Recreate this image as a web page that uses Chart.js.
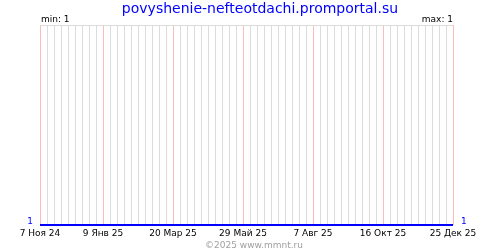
<!DOCTYPE html>
<html lang="ru">
<head>
<meta charset="UTF-8">
<title>povyshenie-nefteotdachi.promportal.su</title>
<script src="https://cdn.jsdelivr.net/npm/chart.js"></script>
<style>
  html, body { margin: 0; padding: 0; background: #fff; }
  #wrap { width: 500px; height: 250px; position: relative; }
</style>
</head>
<body>
<div id="wrap"><canvas id="grafico"></canvas></div>

<script>
// dados do grafico
const siteTitle = 'povyshenie-nefteotdachi.promportal.su';
const tickLabels = ['7 Ноя 24', '9 Янв 25', '20 Мар 25', '29 Май 25', '7 Авг 25', '16 Окт 25', '25 Дек 25'];
const tickDays = [0, 63, 133, 203, 273, 343, 413];   // dias desde 7 Ноя 24
const pointDays = [0, 63, 133, 203, 273, 343, 413];
const pointValues = [1, 1, 1, 1, 1, 1, 1];
const minText = 'min: 1';
const maxText = 'max: 1';
const footerText = '©2025 www.mmnt.ru';

const FONT = '"DejaVu Sans", Verdana, sans-serif';

// textos extras (titulo, min/max, rodape)
const textos = {
  id: 'textos',
  afterDraw(chart) {
    const ctx = chart.ctx;
    const area = chart.chartArea;
    ctx.save();
    ctx.textBaseline = 'alphabetic';

    ctx.font = '14px ' + FONT;
    ctx.fillStyle = '#0000ff';
    ctx.textAlign = 'center';
    ctx.fillText(siteTitle, 260, 13);

    ctx.font = '9px ' + FONT;
    ctx.fillStyle = '#000';
    ctx.textAlign = 'left';
    ctx.fillText(minText, area.left + 1, 22);
    ctx.textAlign = 'right';
    ctx.fillText(maxText, area.right, 22);

    ctx.fillStyle = '#a0a0a0';
    ctx.textAlign = 'center';
    ctx.fillText(footerText, 254, 248);
    ctx.restore();
  }
};

const dados = pointDays.map((d, i) => ({ x: d, y: pointValues[i] }));

const config = {
  type: 'line',
  data: {
    datasets: [{
      data: dados,
      borderColor: '#0000ff',
      borderWidth: 2,
      pointRadius: 0,
      tension: 0,
      fill: false,
      clip: 3
    }]
  },
  options: {
    responsive: false,
    animation: false,
    layout: { padding: { top: 25, left: 0, right: 0, bottom: 0 } },
    plugins: { legend: { display: false }, tooltip: { enabled: false }, title: { display: false } },
    scales: {
      x: {
        type: 'linear',
        min: tickDays[0],
        max: tickDays[tickDays.length - 1],
        afterFit(scale) { scale.height = 25; },
        afterBuildTicks(scale) {
          const t = [];
          for (let v = scale.min; v <= scale.max; v += 7) t.push({ value: v });
          scale.ticks = t;
        },
        ticks: {
          autoSkip: false,
          maxRotation: 0,
          padding: 3,
          color: '#000',
          font: { family: FONT, size: 9 },
          callback(v) {
            const i = tickDays.indexOf(v);
            return i >= 0 ? tickLabels[i] : '';
          }
        },
        grid: {
          drawTicks: false,
          lineWidth: 1,
          color(c) {
            return tickDays.includes(c.tick.value) ? '#ffbcbc' : '#dcdcdc';
          }
        },
        border: { display: false }
      },
      y: {
        position: 'left',
        min: 1,
        max: 2,
        afterFit(scale) { scale.width = 40; },
        afterBuildTicks(scale) { scale.ticks = [{ value: 1 }, { value: 2 }]; },
        ticks: {
          padding: 7,
          labelOffset: -3,
          color: '#0000ff',
          font: { family: FONT, size: 9 },
          callback(v) { return v === 1 ? '1' : ''; }
        },
        grid: {
          drawTicks: false,
          color(c) { return c.tick.value === 2 ? '#dcdcdc' : 'rgba(0,0,0,0)'; }
        },
        border: { display: false }
      },
      y2: {
        position: 'right',
        min: 1,
        max: 2,
        afterFit(scale) { scale.width = 47; },
        afterBuildTicks(scale) { scale.ticks = [{ value: 1 }]; },
        ticks: {
          padding: 8,
          labelOffset: -3,
          color: '#0000ff',
          font: { family: FONT, size: 9 },
          callback() { return '1'; }
        },
        grid: { display: false, drawTicks: false },
        border: { display: false }
      }
    }
  },
  plugins: [textos]
};

const canvas = document.getElementById('grafico');
canvas.width = 500;
canvas.height = 250;
new Chart(canvas, config);
</script>
</body>
</html>
